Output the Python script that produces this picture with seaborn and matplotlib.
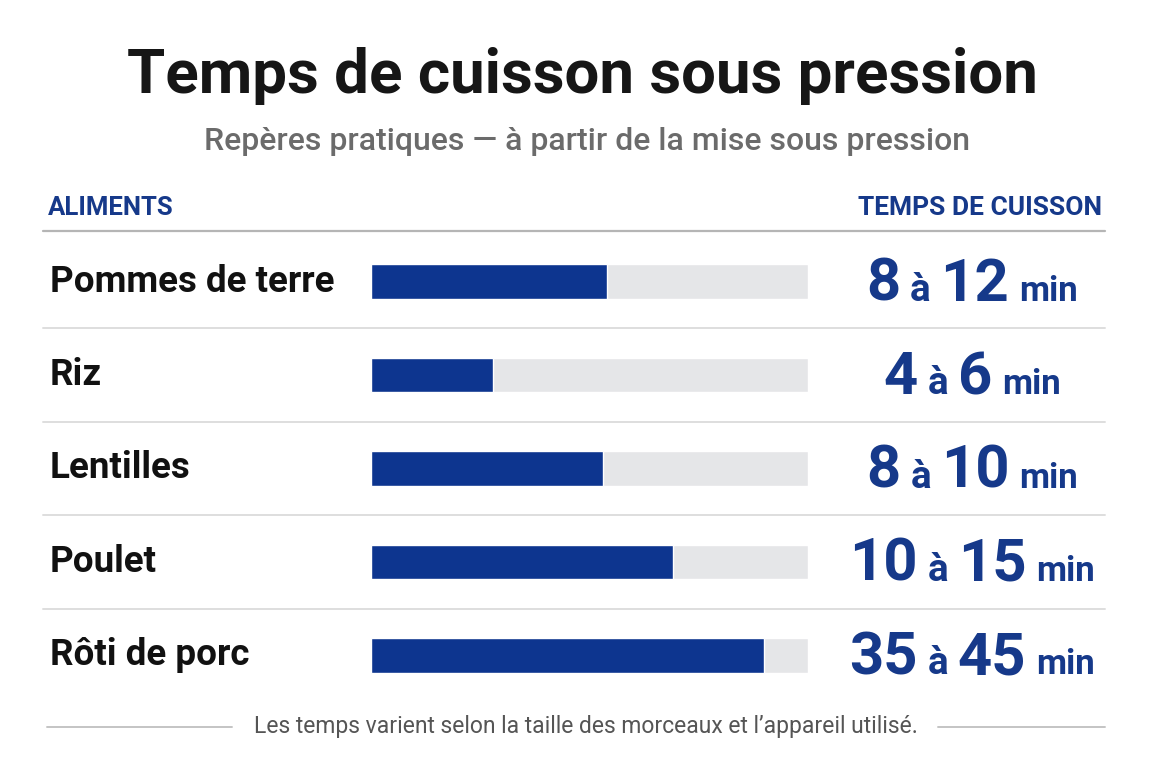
import matplotlib
matplotlib.use("Agg")
import matplotlib.pyplot as plt
from matplotlib.offsetbox import TextArea, HPacker, AnnotationBbox
import seaborn as sns
import pandas as pd

# ---- data ----
aliments = ["Pommes de terre", "Riz", "Lentilles", "Poulet", "Rôti de porc"]
temps_min = [8, 4, 8, 10, 35]
temps_max = [12, 6, 10, 15, 45]
barre_pct = [54, 28, 53, 69, 90]   # fill of the bar (% of track)
track_pct = [100, 100, 100, 100, 100]

title = "Temps de cuisson sous pression"
subtitle = "Repères pratiques — à partir de la mise sous pression"
head_left = "ALIMENTS"
head_right = "TEMPS DE CUISSON"
footer = "Les temps varient selon la taille des morceaux et l’appareil utilisé."

NAVY = "#0d358f"
NAVY_T = "#16398a"
TRACK = "#e5e6e8"

sns.set_theme(style="white")
FONT = ["Roboto", "DejaVu Sans"]
plt.rcParams["font.family"] = FONT

df = pd.DataFrame({"aliment": aliments, "pct": barre_pct, "track": track_pct})

W, H = 1152, 768
fig = plt.figure(figsize=(W / 100, H / 100), dpi=100)
fig.patch.set_facecolor("white")

# overlay axes in pixel coordinates for texts and rules
ov = fig.add_axes([0, 0, 1, 1])
ov.set_xlim(0, W)
ov.set_ylim(H, 0)
ov.axis("off")

# bar axes
x0, x1 = 371, 808
top, bot = 235, 702
ax = fig.add_axes([x0 / W, 1 - bot / H, (x1 - x0) / W, (bot - top) / H])
sns.barplot(data=df, y="aliment", x="track", color=TRACK, width=0.37,
            orient="h", ax=ax, saturation=1)
sns.barplot(data=df, y="aliment", x="pct", color=NAVY, width=0.37,
            orient="h", ax=ax, saturation=1)
ax.set_xlim(0, 100)
ax.set_ylim(len(aliments) - 0.5, -0.5)
ax.axis("off")

# title & subtitle
ov.text(582, 76, title, ha="center", va="center", fontsize=44.5,
        fontweight="bold", color="#161616")
ov.text(587, 141, subtitle, ha="center", va="center", fontsize=23,
        color="#6b6b6b", fontweight="medium")

# header
ov.text(48, 208, head_left, ha="left", va="center", fontsize=18.5,
        fontweight="bold", color=NAVY_T)
ov.text(1102, 208, head_right, ha="right", va="center", fontsize=19,
        fontweight="bold", color=NAVY_T)
ov.plot([43, 1105], [231, 231], color="#b5b5b5", lw=1.6)

# rows
step = (bot - top) / len(aliments)
for i, name in enumerate(aliments):
    yc = top + (i + 0.5) * step
    ov.text(50, yc, name, ha="left", va="center", fontsize=26.5,
            fontweight="bold", color="#111111")
    if i < len(aliments) - 1:
        ov.plot([43, 1105], [yc + step / 2, yc + step / 2], color="#dedede", lw=1.4)
    parts = [
        TextArea(str(temps_min[i]), textprops=dict(fontsize=43, fontweight="bold", color=NAVY_T, family=FONT)),
        TextArea("à", textprops=dict(fontsize=28, fontweight="bold", color=NAVY_T, family=FONT)),
        TextArea(str(temps_max[i]), textprops=dict(fontsize=43, fontweight="bold", color=NAVY_T, family=FONT)),
        TextArea("min", textprops=dict(fontsize=25, fontweight="bold", color=NAVY_T, family=FONT)),
    ]
    box = HPacker(children=parts, align="baseline", pad=0, sep=7)
    ab = AnnotationBbox(box, (972, yc + 3), xycoords="data", frameon=False,
                        box_alignment=(0.5, 0.5))
    ov.add_artist(ab)

# footer
ov.plot([47, 232], [727, 727], color="#c4c4c4", lw=1.4)
ov.plot([938, 1105], [727, 727], color="#c4c4c4", lw=1.4)
ov.text(586, 727, footer, ha="center", va="center", fontsize=16.5,
        color="#555555")

fig.savefig("out.png", dpi=100, facecolor="white")
